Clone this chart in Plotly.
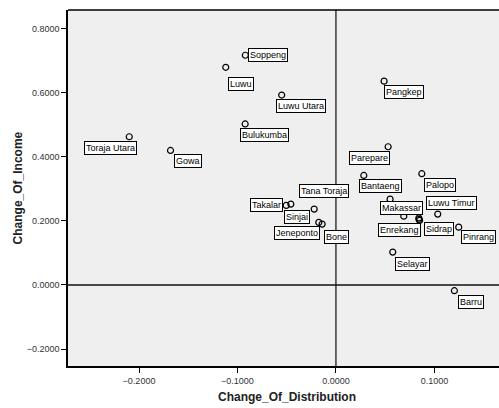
import plotly.graph_objects as go

# Regions of South Sulawesi: change in distribution vs change in income
regions = [
    "Toraja Utara", "Gowa", "Luwu", "Soppeng", "Bulukumba", "Luwu Utara",
    "Pangkep", "Parepare", "Bantaeng", "Palopo", "Takalar", "Sinjai",
    "Tana Toraja", "Jeneponto", "Bone", "Makassar", "", "Enrekang",
    "Sidrap", "", "Luwu Timur", "Pinrang", "Selayar", "Barru",
]
change_of_distribution = [
    -0.2099, -0.1680, -0.1119, -0.0920, -0.0922, -0.0551,
    0.0489, 0.0530, 0.0283, 0.0872, -0.0505, -0.0458,
    -0.0221, -0.0174, -0.0140, 0.0550, 0.0689, 0.0842,
    0.0850, 0.0844, 0.1034, 0.1247, 0.0577, 0.1203,
]
change_of_income = [
    0.4624, 0.4197, 0.6791, 0.7166, 0.5023, 0.5925,
    0.6358, 0.4312, 0.3417, 0.3471, 0.2482, 0.2523,
    0.2367, 0.1952, 0.1899, 0.2678, 0.2148, 0.2092,
    0.2014, 0.2046, 0.2211, 0.1805, 0.1026, -0.0178,
]

x_ticks = [-0.2, -0.1, 0.0, 0.1]
y_ticks = [-0.2, 0.0, 0.2, 0.4, 0.6, 0.8]

FONT = "Liberation Sans, Arial, sans-serif"

# Label box placement relative to each point (pixels: right, down)
label_offsets = {
    "Toraja Utara": (-19, 11), "Gowa": (17, 11), "Luwu": (15, 17),
    "Soppeng": (23, 0), "Bulukumba": (19, 11), "Luwu Utara": (19, 11),
    "Pangkep": (20, 11), "Parepare": (-19, 11), "Bantaeng": (17, 11),
    "Palopo": (18, 11), "Takalar": (-20, 0), "Sinjai": (6, 13),
    "Tana Toraja": (10, -18), "Jeneponto": (-22, 11), "Bone": (14, 13),
    "Makassar": (11, 9), "Enrekang": (-19, 12), "Sidrap": (19, 9),
    "Luwu Timur": (14, -11), "Pinrang": (20, 10), "Selayar": (20, 12),
    "Barru": (17, 11),
}

fig = go.Figure()
fig.add_trace(go.Scatter(
    x=change_of_distribution, y=change_of_income, mode="markers",
    text=regions, hoverinfo="text+x+y",
    marker=dict(symbol="circle-open", size=6, color="black",
                line=dict(width=1.2, color="black")),
    showlegend=False,
))

annotations = []
for name, xv, yv in zip(regions, change_of_distribution, change_of_income):
    if not name:
        continue
    dx, dy = label_offsets[name]
    annotations.append(dict(
        x=xv, y=yv, xref="x", yref="y", text=name, showarrow=False,
        xshift=dx, yshift=-dy, xanchor="center", yanchor="middle",
        font=dict(family=FONT, size=9, color="black"),
        bgcolor="white", bordercolor="black", borderwidth=1, borderpad=1,
    ))

# Axis titles
annotations.append(dict(
    text="<b>Change_Of_Distribution</b>", xref="paper", yref="paper",
    x=0.508, y=-0.088, xanchor="center", yanchor="middle", showarrow=False,
    font=dict(family=FONT, size=12, color="#222"),
))
annotations.append(dict(
    text="<b>Change_Of_Income</b>", xref="paper", yref="paper",
    x=-0.115, y=0.5, xanchor="center", yanchor="middle", showarrow=False,
    textangle=-90, font=dict(family=FONT, size=12, color="#222"),
))

shapes = [
    # reference lines through the origin
    dict(type="line", xref="x", yref="paper", x0=0, x1=0, y0=0, y1=1,
         line=dict(color="#444", width=1.6), layer="below"),
    dict(type="line", xref="paper", yref="y", x0=0, x1=1, y0=0, y1=0,
         line=dict(color="#111", width=1.3), layer="below"),
    # top frame edge
    dict(type="line", xref="paper", yref="paper", x0=0, x1=1, y0=1, y1=1,
         line=dict(color="black", width=1.5)),
]

fig.update_layout(
    width=499, height=408,
    margin=dict(l=68, r=0, t=10, b=42),
    paper_bgcolor="white", plot_bgcolor="#EFEFEF",
    font=dict(family=FONT, size=9, color="#333"),
    annotations=annotations, shapes=shapes,
    xaxis=dict(range=[-0.2721, 0.1656], tickvals=x_ticks, tickformat=".4f",
               showgrid=False, zeroline=False, showline=True,
               linecolor="black", linewidth=1.5, ticks="outside",
               ticklen=5, tickcolor="black", tickfont=dict(size=9)),
    yaxis=dict(range=[-0.2527, 0.8578], tickvals=y_ticks, tickformat=".4f",
               showgrid=False, zeroline=False, showline=True,
               linecolor="black", linewidth=1.5, ticks="outside",
               ticklen=5, tickcolor="black", tickfont=dict(size=9)),
)

fig.write_html("out.html")
